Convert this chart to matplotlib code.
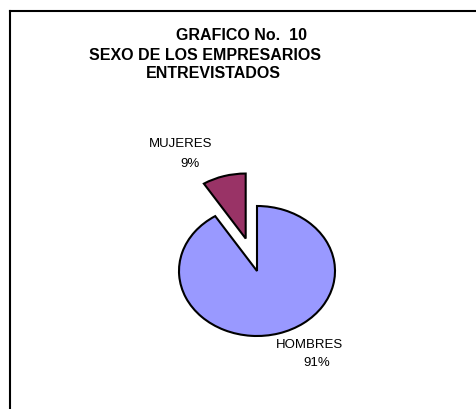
import matplotlib
matplotlib.use("Agg")
import matplotlib.pyplot as plt
from matplotlib.lines import Line2D

# data
categorias = ["MUJERES", "HOMBRES"]
porcentajes = [9, 91]
colores = ["#993366", "#9999FF"]
separacion = [0.52, 0.0]

titulo = ["GRAFICO No.  10", "SEXO DE LOS EMPRESARIOS", "ENTREVISTADOS"]

W, H = 477, 409
fig = plt.figure(figsize=(W / 100, H / 100), dpi=100)
fig.patch.set_facecolor("white")
plt.rcParams['font.family'] = ['Liberation Sans', 'DejaVu Sans']

# border of the chart area (open to the right and bottom)
fig.add_artist(Line2D([10 / W, 10 / W], [0, 1 - 11 / H], transform=fig.transFigure,
                      color="black", lw=1.5))
fig.add_artist(Line2D([10 / W, 1], [1 - 11 / H, 1 - 11 / H], transform=fig.transFigure,
                      color="black", lw=1.5))

# pie axes: radius 1 -> 78 px wide, 65 px tall (flattened pie)
rx, ry = 78, 65
cx, cy = 257, 271
span = 1.6
aw, ah = 2 * span * rx, 2 * span * ry
ax = fig.add_axes([(cx - aw / 2) / W, (H - cy - ah / 2) / H, aw / W, ah / H])
ax.pie(porcentajes, colors=colores, explode=separacion, startangle=90,
       counterclock=True, wedgeprops=dict(edgecolor="black", linewidth=1.5))
ax.set_aspect("auto")
ax.set_xlim(-span, span)
ax.set_ylim(-span, span)
ax.axis("off")

# title
pos_titulo = [(242, 36), (205, 55), (213, 74)]
for txt, (x, y) in zip(titulo, pos_titulo):
    fig.text(x / W, 1 - y / H, txt, ha="center", va="center",
             fontsize=11.5, fontweight="bold")

# labels
pos_etiquetas = [(181, 144, 190, 164), (310, 345, 317, 363)]
for cat, val, (x1, y1, x2, y2) in zip(categorias, porcentajes, pos_etiquetas):
    fig.text(x1 / W, 1 - y1 / H, cat, ha="center", va="center", fontsize=9.5)
    fig.text(x2 / W, 1 - y2 / H, f"{val}%", ha="center", va="center", fontsize=9.5)

fig.savefig("out.png", dpi=100)
